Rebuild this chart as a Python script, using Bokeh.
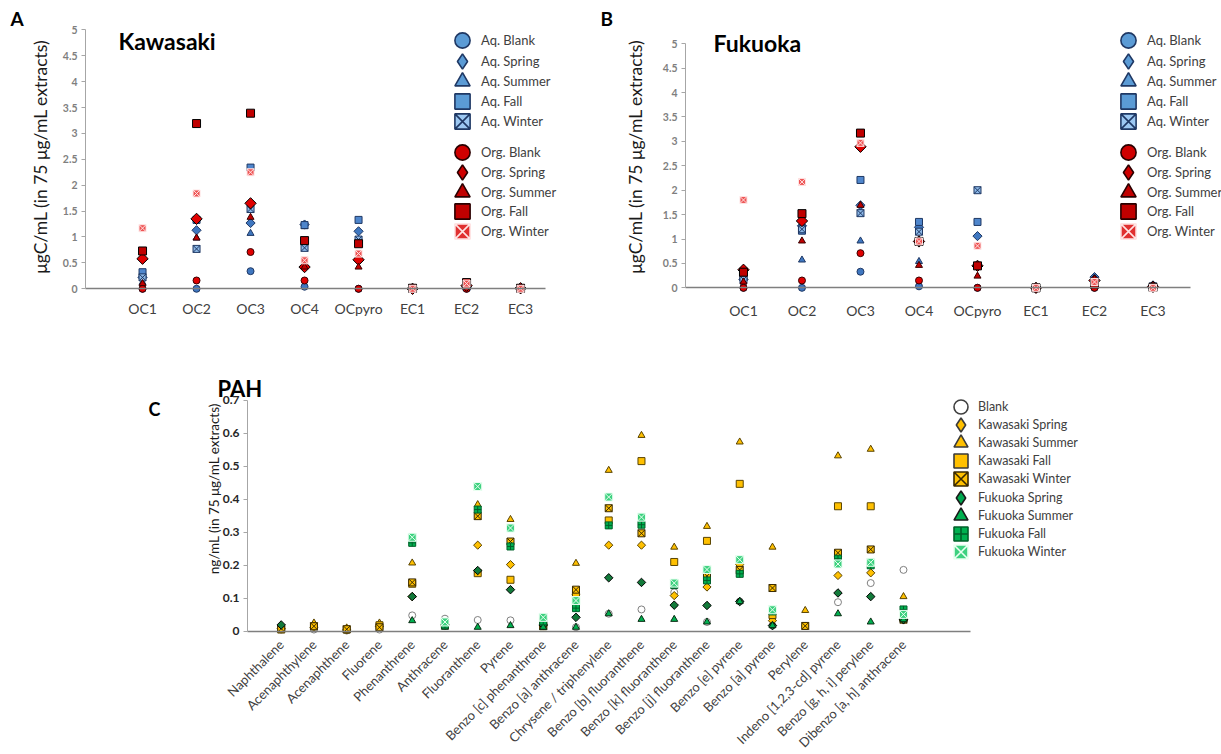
import math
from bokeh.plotting import figure
from bokeh.layouts import column, row
from bokeh.models import (Range1d, FixedTicker, CustomJSTickFormatter, Label,
                          Legend, LegendItem)
from bokeh.embed import file_html
from bokeh.resources import INLINE

FONT = "Lato"
NAN = float("nan")

# ---------------- carbon fractions (µgC/mL) ----------------
ec_categories = ["OC1", "OC2", "OC3", "OC4", "OCpyro", "EC1", "EC2", "EC3"]

# Kawasaki
kaw_aq_blank = [0.0, 0.0, 0.34, 0.04, 0.0, 0.0, 0.0, 0.0]
kaw_aq_spring = [0.22, 1.13, 1.27, 1.24, 1.11, 0.0, 0.03, 0.0]
kaw_aq_summer = [0.12, 0.98, 1.07, 1.20, 0.93, 0.0, 0.02, 0.0]
kaw_aq_fall = [0.32, 1.33, 2.34, 1.23, 1.33, 0.0, 0.05, 0.01]
kaw_aq_winter = [0.22, 0.77, 1.54, 0.79, 0.95, 0.0, 0.04, 0.0]
kaw_org_blank = [0.0, 0.16, 0.71, 0.16, 0.0, 0.0, 0.0, 0.0]
kaw_org_spring = [0.58, 1.35, 1.65, 0.42, 0.56, 0.0, 0.06, 0.01]
kaw_org_summer = [0.10, 0.98, 1.38, 0.42, 0.42, 0.0, 0.08, 0.01]
kaw_org_fall = [0.73, 3.19, 3.39, 0.93, 0.87, 0.01, 0.12, 0.01]
kaw_org_winter = [1.17, 1.84, 2.25, 0.55, 0.68, 0.0, 0.10, 0.0]

# Fukuoka
fuk_aq_blank = [0.0, 0.0, 0.33, 0.03, 0.0, 0.0, 0.0, 0.0]
fuk_aq_spring = [0.17, 1.27, 1.69, 1.24, 1.06, 0.0, 0.22, 0.05]
fuk_aq_summer = [0.12, 0.57, 0.96, 0.54, 0.45, 0.0, 0.20, 0.04]
fuk_aq_fall = [0.22, 1.17, 2.21, 1.35, 1.35, 0.0, 0.05, 0.02]
fuk_aq_winter = [0.17, 1.20, 1.53, 1.15, 2.00, 0.0, 0.10, 0.03]
fuk_org_blank = [0.0, 0.15, 0.71, 0.15, 0.0, 0.0, 0.0, 0.0]
fuk_org_spring = [0.37, 1.37, 2.89, 0.95, 0.45, 0.0, 0.15, 0.02]
fuk_org_summer = [0.12, 0.96, 1.69, 0.46, 0.24, 0.0, 0.18, 0.03]
fuk_org_fall = [0.32, 1.52, 3.17, 0.95, 0.45, 0.0, 0.08, 0.01]
fuk_org_winter = [1.80, 2.17, 2.97, 0.95, 0.86, 0.0, 0.12, 0.0]

# ---------------- PAH (ng/mL) ----------------
pah_categories = [
    "Naphthalene", "Acenaphthylene", "Acenaphthene", "Fluorene", "Phenanthrene",
    "Anthracene", "Fluoranthene", "Pyrene", "Benzo [c] phenanthrene",
    "Benzo [a] anthracene", "Chrysene / triphenylene", "Benzo [b] fluoranthene",
    "Benzo [k] fluoranthene", "Benzo [j] fluoranthene", "Benzo [e] pyrene",
    "Benzo [a] pyrene", "Perylene", "Indeno [1,2,3-cd] pyrene",
    "Benzo [g, h, i] perylene", "Dibenzo [a, h] anthracene",
]
pah_blank = [0.005, 0.005, 0.002, 0.005, 0.048, 0.038, 0.034, 0.033, 0.02, 0.012,
             0.053, 0.066, 0.118, 0.028, 0.09, 0.017, 0.016, 0.088, 0.146, 0.186]
pah_kaw_spring = [0.008, 0.012, 0.004, 0.015, 0.105, 0.018, 0.261, 0.202, 0.018, 0.110,
                  0.261, 0.261, 0.108, 0.134, 0.202, 0.032, NAN, 0.169, 0.177, 0.034]
pah_kaw_summer = [0.012, 0.025, 0.010, 0.025, 0.207, 0.020, 0.384, 0.339, 0.020, 0.206,
                  0.488, 0.594, 0.255, 0.318, 0.574, 0.255, 0.063, 0.532, 0.552, 0.105]
pah_kaw_fall = [0.005, 0.015, 0.005, 0.018, 0.144, 0.020, 0.176, 0.156, 0.015, 0.113,
                0.336, 0.516, 0.210, 0.274, 0.447, 0.049, NAN, 0.379, 0.379, 0.040]
pah_kaw_winter = [0.008, 0.015, 0.006, 0.012, 0.148, 0.018, 0.349, 0.272, 0.016, 0.126,
                  0.373, 0.297, 0.145, 0.167, 0.186, 0.131, 0.016, 0.238, 0.248, 0.035]
pah_fuk_spring = [0.019, NAN, NAN, NAN, 0.105, 0.020, 0.184, 0.126, 0.019, 0.042,
                  0.162, 0.148, 0.079, 0.078, 0.090, 0.017, NAN, 0.116, 0.105, 0.035]
pah_fuk_summer = [NAN, NAN, NAN, NAN, 0.032, 0.012, 0.012, 0.017, 0.012, 0.012,
                  0.053, 0.036, 0.036, 0.028, 0.090, 0.017, NAN, 0.053, 0.028, 0.035]
pah_fuk_fall = [NAN, NAN, NAN, NAN, 0.268, 0.020, 0.369, 0.257, 0.030, 0.070,
                0.321, 0.323, 0.140, 0.154, 0.174, 0.060, NAN, 0.220, 0.200, 0.066]
pah_fuk_winter = [NAN, NAN, NAN, NAN, 0.285, 0.028, 0.439, 0.313, 0.042, 0.093,
                  0.407, 0.346, 0.146, 0.187, 0.217, 0.065, NAN, 0.204, 0.209, 0.051]

# (label, marker, plot fill, plot line, size, legend fill, legend line)
# "diamond" is drawn in the plot as a square turned by 45 degrees
AQ_LEG, AQ_LINE = "#5b9bd5", "#1f3864"
ec_styles = [
    ("Aq. Blank", "circle", "#3f77c0", AQ_LINE, 7, AQ_LEG, AQ_LINE),
    ("Aq. Spring", "diamond", "#3f77c0", AQ_LINE, 6.5, AQ_LEG, AQ_LINE),
    ("Aq. Summer", "triangle", "#3f77c0", AQ_LINE, 7, AQ_LEG, AQ_LINE),
    ("Aq. Fall", "square", "#4f86cc", AQ_LINE, 7, AQ_LEG, AQ_LINE),
    ("Aq. Winter", "square_x", "#8db9e8", "#1f3864", 7, "#9cc8f2", "#1f3864"),
    ("Org. Blank", "circle", "#e00000", "#3a0000", 7, "#d00000", "#2a0000"),
    ("Org. Spring", "diamond", "#e00000", "#000000", 8, "#d00000", "#2a0000"),
    ("Org. Summer", "triangle", "#c00000", "#3a0000", 7, "#c00000", "#2a0000"),
    ("Org. Fall", "square", "#c00000", "#000000", 8, "#c00000", "#2a0000"),
    ("Org. Winter", "square_x", "#ee5555", "#ffe4e4", 7, "#e03030", "#ffe4e4"),
]

GOLD, GOLD_LINE = "#ffc000", "#5a4400"
pah_styles = [
    ("Blank", "circle", "#ffffff", "#7f7f7f", 7, "#ffffff", "#404040"),
    ("Kawasaki Spring", "diamond", GOLD, GOLD_LINE, 5.8, GOLD, "#3a3a3a"),
    ("Kawasaki Summer", "triangle", GOLD, GOLD_LINE, 7, GOLD, "#3a3a3a"),
    ("Kawasaki Fall", "square", GOLD, GOLD_LINE, 7, GOLD, "#3a3a3a"),
    ("Kawasaki Winter", "square_x", GOLD, "#3a2a00", 7, GOLD, "#3a2a00"),
    ("Fukuoka Spring", "diamond", "#127a3a", "#000000", 6, "#00a84f", "#1a1a1a"),
    ("Fukuoka Summer", "triangle", "#00b050", "#0b2d14", 7, "#00b050", "#1a1a1a"),
    ("Fukuoka Fall", "square_cross", "#00b050", "#00602a", 7, "#00b050", "#00602a"),
    ("Fukuoka Winter", "square_x", "#3dd17f", "#e9fff1", 8, "#3dd17f", "#e9fff1"),
]

one_decimal = CustomJSTickFormatter(code="return String(Math.round(tick * 10) / 10);")


def base_figure(width, height, xr, yr):
    p = figure(width=width, height=height, x_range=Range1d(*xr), y_range=Range1d(*yr),
               output_backend="svg", toolbar_location=None,
               min_border_left=0, min_border_right=0,
               min_border_top=0, min_border_bottom=0)
    p.outline_line_color = None
    p.xgrid.grid_line_color = None
    p.ygrid.grid_line_color = None
    p.background_fill_color = "white"
    p.border_fill_color = "white"
    return p


def style_axes(p, x_origin, x_end, y_top, yticks, ytick_size, ytick_color,
               xlabels, xlabel_size, xstandoff, orientation="horizontal"):
    yax = p.yaxis[0]
    yax.fixed_location = x_origin
    yax.bounds = (0, y_top)
    yax.ticker = FixedTicker(ticks=yticks)
    yax.formatter = one_decimal
    yax.axis_line_color = "#a6a6a6"
    yax.major_tick_line_color = "#a6a6a6"
    yax.major_tick_out = 4
    yax.major_tick_in = 0
    yax.minor_tick_line_color = None
    yax.major_label_text_font = FONT
    yax.major_label_text_font_size = ytick_size
    yax.major_label_text_font_style = "bold"
    yax.major_label_text_color = ytick_color
    yax.major_label_standoff = 4

    xax = p.xaxis[0]
    xax.fixed_location = 0
    xax.bounds = (x_origin, x_end)
    xax.ticker = FixedTicker(ticks=list(range(len(xlabels))))
    xax.major_label_overrides = {i: c for i, c in enumerate(xlabels)}
    xax.major_label_orientation = orientation
    xax.axis_line_color = "#7f7f7f"
    xax.axis_line_width = 1.5
    xax.major_tick_line_color = None
    xax.minor_tick_line_color = None
    xax.major_label_standoff = xstandoff
    xax.major_label_text_font = FONT
    xax.major_label_text_font_size = xlabel_size
    xax.major_label_text_color = "#404040"


def add_label(p, text, x, y, size, bold=True, angle=0.0, align="left", baseline="top"):
    p.add_layout(Label(x=x, y=y, x_units="screen", y_units="screen", text=text,
                       text_font=FONT, text_font_size=size,
                       text_font_style="bold" if bold else "normal", angle=angle,
                       text_color="#000000" if bold else "#1a1a1a",
                       text_baseline=baseline, text_align=align))


def add_axis_title(p, text, x, y, size):
    add_label(p, text, x, y, size, bold=False, angle=math.pi / 2,
              align="center", baseline="middle")


def add_legend_rows(p, styles, left, centers, frame_h, glyph, font_size):
    # one legend per row so every row sits exactly where it should
    for (label, marker, _f, _l, _s, lfill, lline), cy in zip(styles, centers):
        proxy = p.scatter(x=[NAN], y=[NAN], marker=marker, fill_color=lfill,
                          line_color=lline, line_width=1.6)
        leg = Legend(items=[LegendItem(label=label, renderers=[proxy])],
                     location=(left, frame_h - cy - glyph / 2),
                     glyph_width=glyph, glyph_height=glyph, label_height=glyph,
                     padding=0, margin=0, spacing=0, label_standoff=0,
                     background_fill_alpha=0, border_line_color=None,
                     label_text_font=FONT, label_text_font_size=font_size,
                     label_text_color="#404040")
        p.add_layout(leg)


def draw_series(p, styles, series):
    xs = list(range(len(series[0])))
    for (label, marker, fill, line, size, _lf, _ll), ys in zip(styles, series):
        if marker == "diamond":
            p.scatter(xs, ys, marker="square", angle=math.pi / 4, size=size,
                      fill_color=fill, line_color=line, line_width=1)
        else:
            p.scatter(xs, ys, marker=marker, size=size, fill_color=fill,
                      line_color=line, line_width=1)


EC_ROWS = [40, 61, 81, 101, 121, 152, 172, 192, 211, 231]
EC_YLABEL = "μgC/mL (in 75 μg/mL extracts)"

# ---------------- panel A: Kawasaki ----------------
kaw_series = [kaw_aq_blank, kaw_aq_spring, kaw_aq_summer, kaw_aq_fall, kaw_aq_winter,
              kaw_org_blank, kaw_org_spring, kaw_org_summer, kaw_org_fall, kaw_org_winter]
pA = base_figure(600, 335, (-2.63, 8.48), (-0.902, 5.566))
draw_series(pA, ec_styles, kaw_series)
style_axes(pA, -1.056, 7.46, 5, [i * 0.5 for i in range(11)], "10.5px", "#7f7f7f",
           ec_categories, "14px", 5)
add_axis_title(pA, EC_YLABEL, 40, 179, "17.5px")
add_label(pA, "A", 10, 329, "19px")
add_label(pA, "Kawasaki", 118, 309, "23px")
add_legend_rows(pA, ec_styles, 443, EC_ROWS, 335, 38, "13px")

# ---------------- panel B: Fukuoka ----------------
fuk_series = [fuk_aq_blank, fuk_aq_spring, fuk_aq_summer, fuk_aq_fall, fuk_aq_winter,
              fuk_org_blank, fuk_org_spring, fuk_org_summer, fuk_org_fall, fuk_org_winter]
pB = base_figure(621, 335, (-2.444, 8.171), (-0.977, 5.887))
draw_series(pB, ec_styles, fuk_series)
style_axes(pB, -0.991, 7.64, 5, [i * 0.5 for i in range(11)], "10.5px", "#7f7f7f",
           ec_categories, "14px", 8)
add_axis_title(pB, EC_YLABEL, 35, 179, "17.5px")
add_label(pB, "B", 0, 329, "19px")
add_label(pB, "Fukuoka", 113, 307, "23px")
add_legend_rows(pB, ec_styles, 509, EC_ROWS, 335, 38, "13px")

# ---------------- panel C: PAH ----------------
pah_series = [pah_blank, pah_kaw_spring, pah_kaw_summer, pah_kaw_fall, pah_kaw_winter,
              pah_fuk_spring, pah_fuk_summer, pah_fuk_fall, pah_fuk_winter]
pC = base_figure(1221, 419, (-8.571, 28.71), (-0.374, 0.897))
draw_series(pC, pah_styles, pah_series)
style_axes(pC, -1.029, 21.05, 0.7, [i * 0.1 for i in range(8)], "12px", "#262626",
           pah_categories, "13px", 5, orientation=math.pi / 4)
add_axis_title(pC, "ng/mL (in 75 μg/mL extracts)", 213, 266, "13.5px")
add_label(pC, "C", 148, 357, "18px")
add_label(pC, "PAH", 217, 380, "22px")
PAH_ROWS = [406, 424, 442, 460, 478, 497, 515, 533, 551]
add_legend_rows(pC, pah_styles, 943, [c - 335 for c in PAH_ROWS], 419, 35, "12.5px")

layout = column(row(pA, pB), pC)
open("out.html", "w").write(file_html(layout, INLINE))
